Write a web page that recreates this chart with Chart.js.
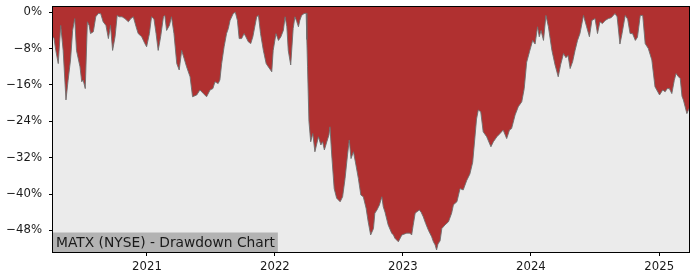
<!DOCTYPE html>
<html lang="en">
<head>
<meta charset="UTF-8">
<title>MATX Drawdown</title>
<script src="https://cdn.jsdelivr.net/npm/chart.js"></script>
<style>
  body { margin: 0; background: #fff; }
  canvas { display: block; }
</style>
</head>
<body>
<canvas id="myChart" width="700" height="280"></canvas>
<script>
// drawdown in %
const dates = [
  '2020-04-08','2020-04-11','2020-04-16','2020-04-23','2020-04-30','2020-05-07','2020-05-15','2020-05-21','2020-05-28','2020-06-03',
  '2020-06-09','2020-06-14','2020-06-24','2020-06-29','2020-07-03','2020-07-09','2020-07-15','2020-07-20','2020-07-24','2020-08-01',
  '2020-08-08','2020-08-15','2020-08-22','2020-08-29','2020-09-06','2020-09-13','2020-09-19','2020-09-25','2020-10-02','2020-10-08',
  '2020-10-14','2020-10-22','2020-10-30','2020-11-09','2020-11-16','2020-11-23','2020-12-01','2020-12-07','2020-12-17','2020-12-26',
  '2020-12-31','2021-01-08','2021-01-14','2021-01-21','2021-01-27','2021-02-02','2021-02-09','2021-02-17','2021-02-21','2021-02-26',
  '2021-03-06','2021-03-12','2021-03-19','2021-03-27','2021-04-03','2021-04-10','2021-04-17','2021-04-24','2021-05-04','2021-05-11',
  '2021-05-23','2021-06-01','2021-06-11','2021-06-20','2021-06-30','2021-07-08','2021-07-14','2021-07-23','2021-07-28','2021-08-02',
  '2021-08-09','2021-08-16','2021-08-21','2021-08-26','2021-09-04','2021-09-10','2021-09-16','2021-09-21','2021-09-28','2021-10-05',
  '2021-10-10','2021-10-17','2021-10-24','2021-10-30','2021-11-10','2021-11-15','2021-11-21','2021-11-29','2021-12-07','2021-12-13',
  '2021-12-23','2021-12-27','2022-01-04','2022-01-11','2022-01-18','2022-01-25','2022-01-30','2022-02-04','2022-02-08','2022-02-15',
  '2022-02-22','2022-02-27','2022-03-04','2022-03-09','2022-03-13','2022-03-18','2022-03-25','2022-03-31','2022-04-02','2022-04-04',
  '2022-04-08','2022-04-13','2022-04-19','2022-04-25','2022-05-05','2022-05-12','2022-05-17','2022-05-22','2022-05-29','2022-06-04',
  '2022-06-07','2022-06-12','2022-06-19','2022-06-26','2022-07-06','2022-07-13','2022-07-20','2022-07-27','2022-08-01','2022-08-06',
  '2022-08-13','2022-08-20','2022-08-27','2022-09-03','2022-09-10','2022-09-18','2022-09-24','2022-10-01','2022-10-09','2022-10-13',
  '2022-10-19','2022-10-26','2022-11-02','2022-11-06','2022-11-11','2022-11-20','2022-11-30','2022-12-05','2022-12-09','2022-12-19',
  '2022-12-29','2023-01-12','2023-01-21','2023-01-26','2023-01-30','2023-02-05','2023-02-10','2023-02-17','2023-02-22','2023-02-28',
  '2023-03-07','2023-03-15','2023-03-24','2023-03-29','2023-04-03','2023-04-07','2023-04-11','2023-04-17','2023-04-22','2023-05-01',
  '2023-05-11','2023-05-20','2023-05-25','2023-05-30','2023-06-04','2023-06-13','2023-06-22','2023-07-02','2023-07-11','2023-07-19',
  '2023-07-26','2023-07-30','2023-08-04','2023-08-11','2023-08-18','2023-08-28','2023-09-09','2023-09-16','2023-09-26','2023-10-05',
  '2023-10-14','2023-10-24','2023-11-01','2023-11-07','2023-11-17','2023-11-26','2023-12-06','2023-12-13','2023-12-20','2023-12-28',
  '2024-01-06','2024-01-13','2024-01-20','2024-01-25','2024-01-30','2024-02-06','2024-02-13','2024-02-20','2024-03-01','2024-03-10',
  '2024-03-19','2024-03-26','2024-04-03','2024-04-10','2024-04-16','2024-04-22','2024-04-29','2024-05-06','2024-05-13','2024-05-20',
  '2024-05-30','2024-06-08','2024-06-16','2024-06-23','2024-07-02','2024-07-09','2024-07-16','2024-07-23','2024-07-31','2024-08-09',
  '2024-08-17','2024-08-22','2024-08-28','2024-09-03','2024-09-11','2024-09-17','2024-09-26','2024-10-03','2024-10-10','2024-10-17',
  '2024-10-25','2024-10-31','2024-11-08','2024-11-15','2024-11-22','2024-12-01','2024-12-11','2024-12-20','2025-01-02','2025-01-11',
  '2025-01-18','2025-01-24','2025-01-30','2025-02-06','2025-02-13','2025-02-18','2025-02-25','2025-03-02','2025-03-07','2025-03-11',
  '2025-03-21','2025-03-27'
];
const drawdown = [
  -5.4, -5.8, -8.4, -11.3, -2.9, -8.4, -19.3, -15.0, -10.5, -4.0,
  -1.4, -8.4, -12.0, -15.3, -14.9, -16.8, -2.1, -2.9, -4.7, -4.3,
  -1.0, -0.3, -0.3, -2.1, -2.9, -5.8, -2.9, -8.4, -5.4, -0.7,
  -1.0, -1.0, -1.4, -2.1, -1.4, -1.0, -3.2, -4.7, -5.4, -6.9,
  -7.6, -4.7, -1.0, -1.5, -4.7, -8.4, -5.4, -1.0, -0.7, -4.0,
  -2.9, -1.0, -4.7, -11.3, -12.7, -8.4, -10.2, -12.0, -14.2, -18.6,
  -18.2, -17.1, -17.9, -18.6, -17.1, -16.8, -15.3, -15.7, -14.9, -11.3,
  -7.6, -4.7, -3.6, -1.8, -0.3, 0.0, -1.8, -5.8, -5.8, -4.7,
  -5.4, -6.5, -6.9, -5.4, -1.0, -0.7, -4.7, -8.4, -11.3, -12.0,
  -13.1, -8.4, -4.7, -6.2, -5.4, -4.0, -1.0, -3.2, -8.4, -11.6,
  -3.6, -1.0, -2.0, -3.2, -1.8, -0.7, -0.3, -0.2, -6.0, -12.0,
  -24.0, -28.5, -26.7, -30.7, -27.4, -29.2, -28.5, -30.3, -28.5, -27.0,
  -25.2, -31.4, -38.8, -40.9, -41.7, -40.6, -36.6, -31.4, -28.1, -32.2,
  -30.7, -33.6, -36.6, -40.2, -40.6, -43.1, -46.1, -49.0, -47.6, -44.2,
  -43.5, -42.4, -40.6, -42.8, -44.0, -46.8, -48.6, -49.0, -49.7, -50.5,
  -49.0, -48.6, -48.6, -49.0, -47.0, -44.2, -43.9, -43.5, -44.0, -45.0,
  -46.5, -48.0, -49.4, -50.5, -51.2, -52.3, -51.0, -50.3, -47.6, -46.8,
  -46.1, -44.2, -42.4, -42.0, -41.7, -38.8, -39.1, -37.0, -35.6, -33.0,
  -27.0, -23.5, -21.5, -21.9, -26.3, -27.4, -29.6, -28.5, -27.4, -26.7,
  -25.9, -27.8, -25.9, -25.6, -22.6, -20.8, -19.7, -16.8, -11.0, -8.7,
  -6.2, -7.0, -3.2, -5.4, -4.0, -6.2, -0.7, -3.2, -8.4, -11.6,
  -14.2, -11.5, -9.1, -10.0, -9.5, -12.4, -10.9, -8.4, -6.2, -4.7,
  -0.7, -3.2, -5.4, -1.8, -1.4, -4.7, -2.1, -2.5, -1.8, -1.4,
  -1.2, -0.8, -0.3, -1.0, -7.0, -4.7, -0.7, -1.5, -4.7, -4.7,
  -6.2, -5.5, -0.7, -0.7, -6.9, -8.0, -10.5, -16.4, -18.2, -17.1,
  -17.5, -16.8, -16.8, -17.9, -15.0, -13.5, -14.2, -14.6, -18.5, -19.3,
  -22.3, -21.2
];
const yearTicks = [2021, 2022, 2023, 2024, 2025];
const yTicks = [0, -8, -16, -24, -32, -40, -48];
const title = 'MATX (NYSE) - Drawdown Chart';

const toTime = (d) => Date.parse(d + 'T00:00:00Z');
const points = dates.map((d, i) => ({ x: toTime(d), y: drawdown[i] }));

const frame = {
  id: 'frame',
  beforeDraw(chart) {
    const { ctx, chartArea: a } = chart;
    ctx.save();
    ctx.fillStyle = '#ebebeb';
    ctx.fillRect(a.left, a.top, a.right - a.left, a.bottom - a.top);
    ctx.restore();
  },
  afterDraw(chart) {
    const { ctx, chartArea: a } = chart;
    ctx.save();
    // label box in the lower left corner
    ctx.font = '13.8px "DejaVu Sans"';
    const w = ctx.measureText(title).width;
    ctx.fillStyle = '#b3b3b3';
    ctx.fillRect(a.left, a.bottom - 19.5, w + 6, 19.5);
    ctx.fillStyle = '#1a1a1a';
    ctx.textBaseline = 'alphabetic';
    ctx.fillText(title, a.left + 3, a.bottom - 5.5);
    // spines
    ctx.strokeStyle = '#000';
    ctx.lineWidth = 1;
    ctx.strokeRect(a.left - 0.5, a.top - 0.5, a.right - a.left + 1, a.bottom - a.top + 1);
    ctx.restore();
  }
};

const config = {
  type: 'line',
  data: {
    datasets: [{
      data: points,
      borderColor: 'rgba(110,110,110,0.9)',
      borderWidth: 1,
      backgroundColor: '#b03030',
      fill: 'end',
      pointRadius: 0,
      tension: 0
    }]
  },
  options: {
    responsive: false,
    animation: false,
    layout: { padding: { top: 7, right: 11, left: 0, bottom: 0 } },
    plugins: { legend: { display: false }, tooltip: { enabled: false } },
    scales: {
      x: {
        type: 'linear',
        min: points[0].x,
        max: points[points.length - 1].x,
        afterBuildTicks: (s) => { s.ticks = yearTicks.map(y => ({ value: Date.UTC(y, 0, 1) })); },
        afterFit: (s) => { s.height = 28; s.paddingLeft = 0; s.paddingRight = 0; },
        grid: { drawOnChartArea: false, drawTicks: true, tickLength: 4, color: '#000' },
        border: { display: false },
        ticks: {
          color: '#1a1a1a',
          font: { family: 'DejaVu Sans', size: 11.7 },
          padding: 4,
          maxRotation: 0,
          autoSkip: false,
          callback: (v) => String(new Date(v).getUTCFullYear())
        }
      },
      y: {
        min: -52.75,
        max: 1.15,
        afterBuildTicks: (s) => { s.ticks = yTicks.map(v => ({ value: v })); },
        afterFit: (s) => { s.width = 53; s.paddingTop = 0; s.paddingBottom = 0; },
        grid: { drawOnChartArea: false, drawTicks: true, tickLength: 4, color: '#000' },
        border: { display: false },
        ticks: {
          color: '#1a1a1a',
          font: { family: 'DejaVu Sans', size: 11.7 },
          padding: 7,
          autoSkip: false,
          callback: (v) => (v < 0 ? '\u2212' + Math.abs(v) : v) + '%'
        }
      }
    }
  },
  plugins: [frame]
};

new Chart(document.getElementById('myChart'), config);
</script>
</body>
</html>
